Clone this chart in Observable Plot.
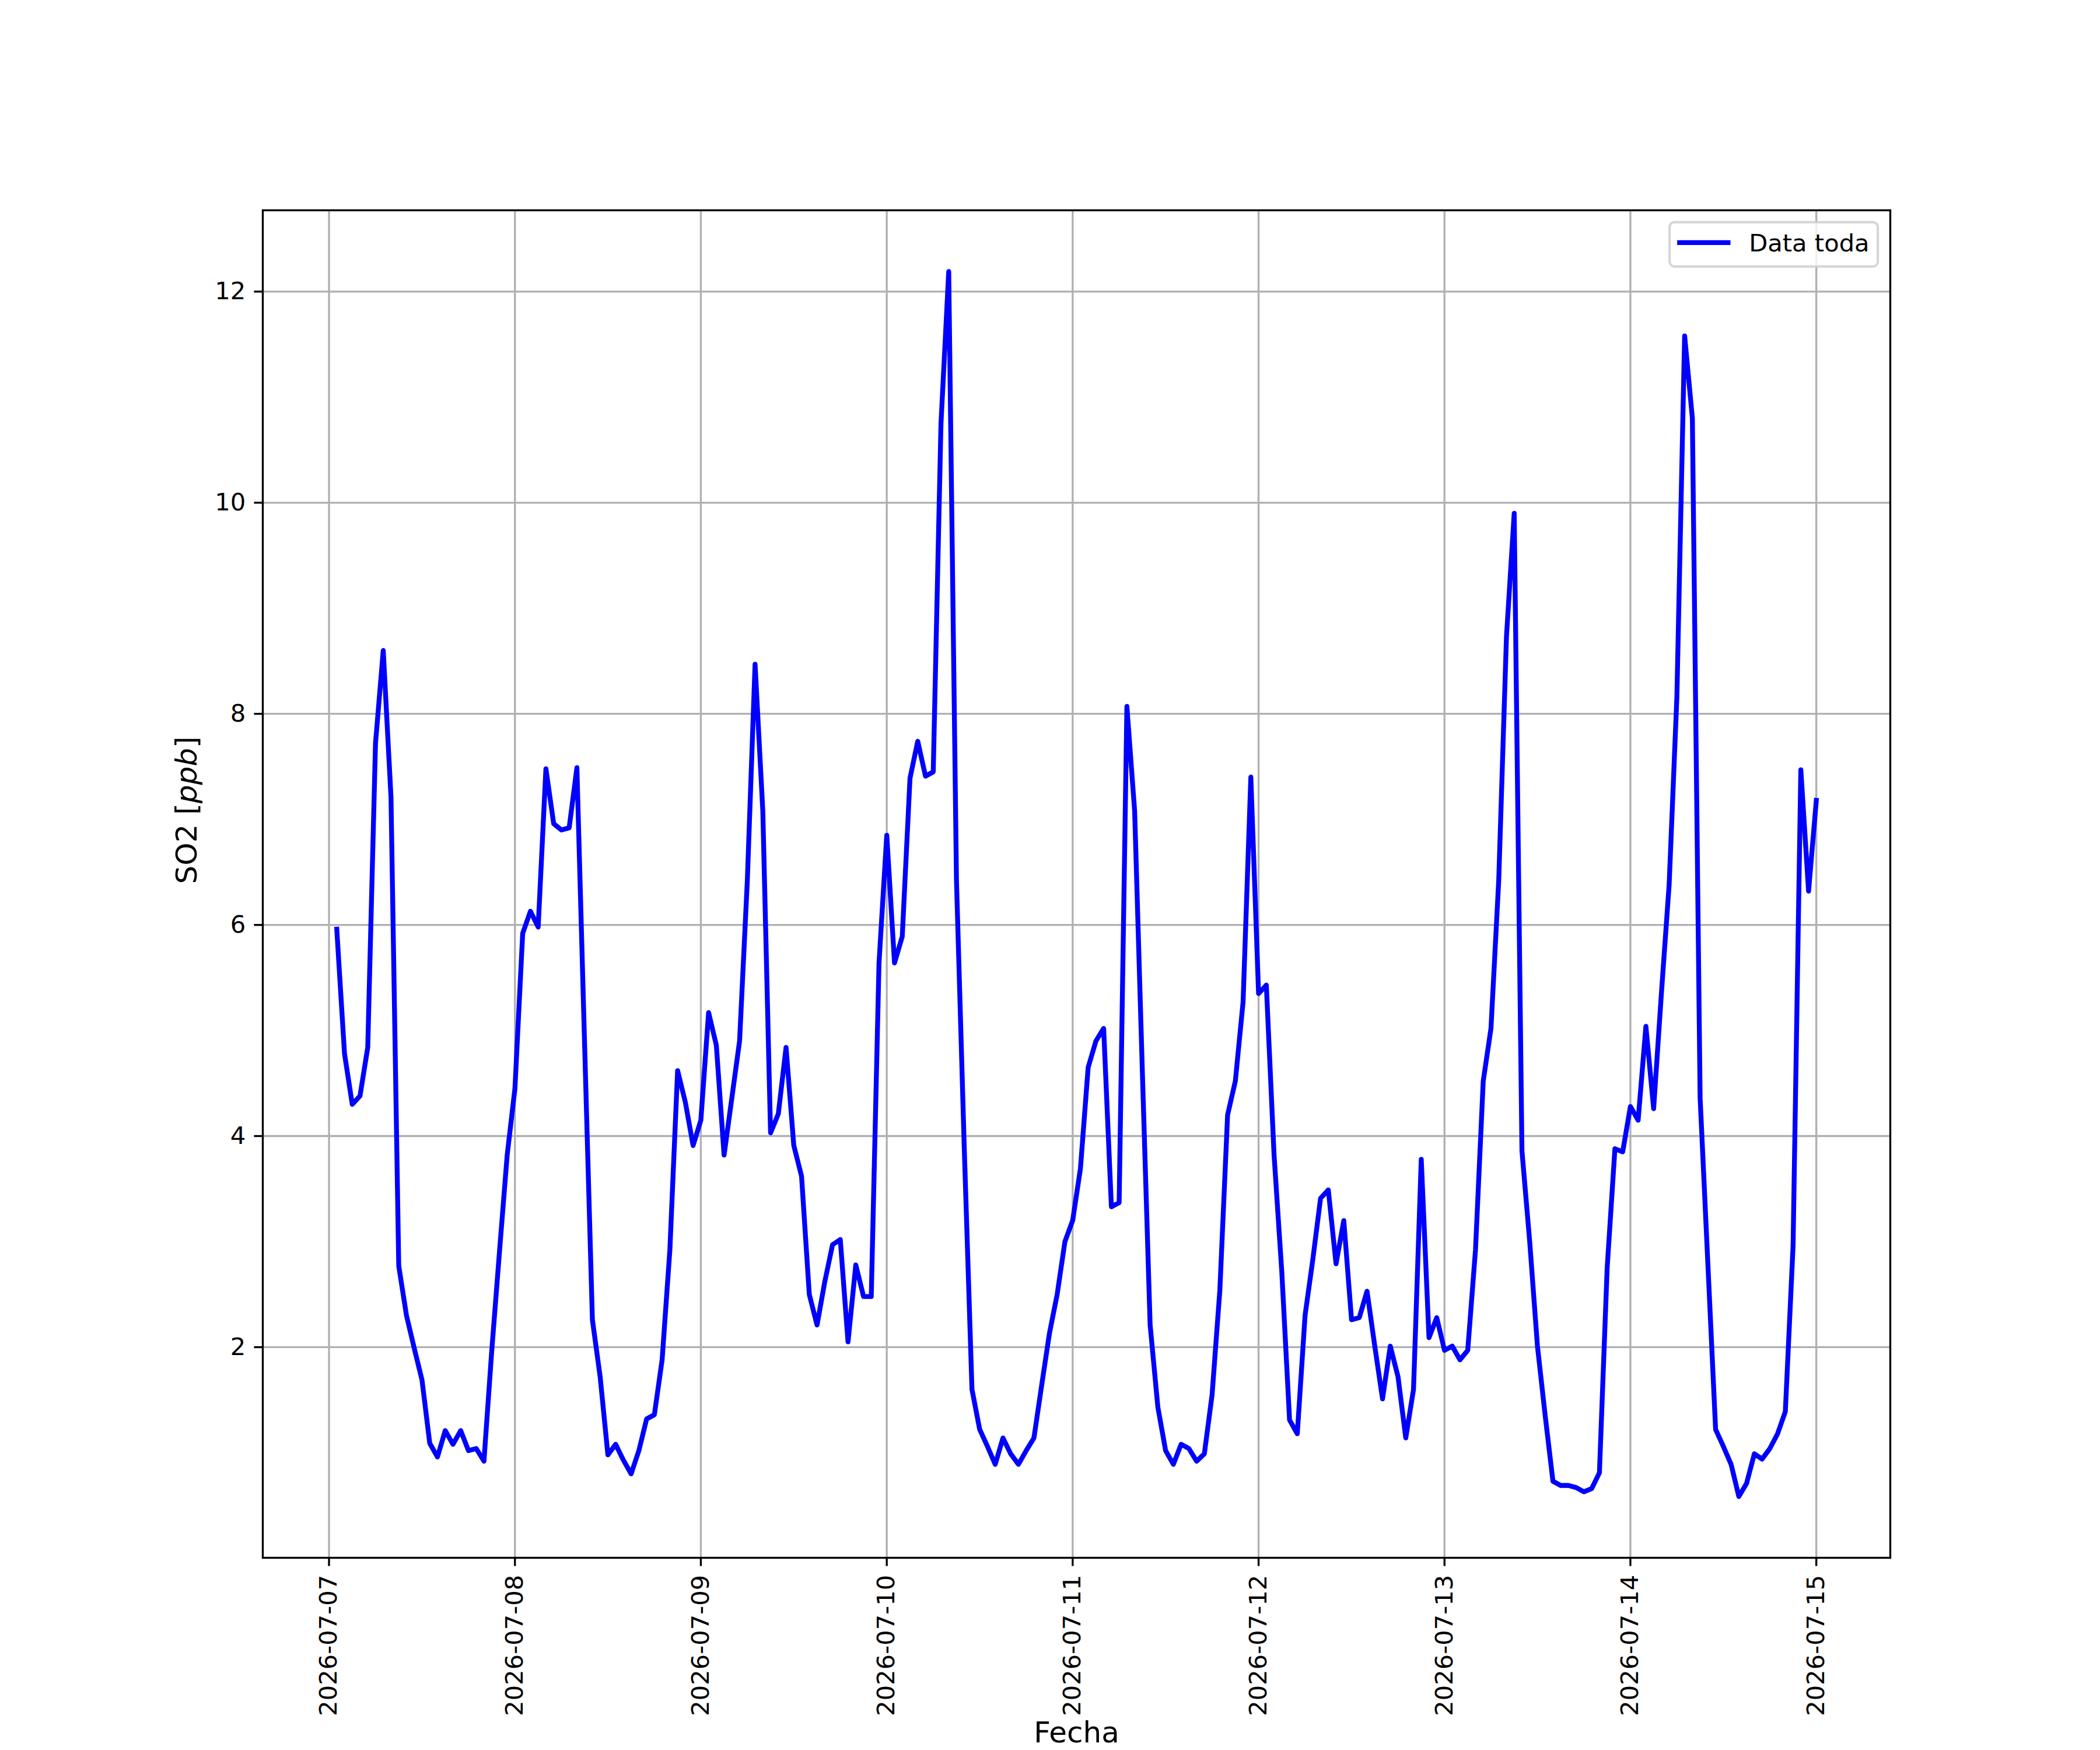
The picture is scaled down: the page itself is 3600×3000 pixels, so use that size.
<!DOCTYPE html>
<html>
<head>
<meta charset="utf-8">
<script src="https://cdn.jsdelivr.net/npm/d3@7"></script>
<script src="https://cdn.jsdelivr.net/npm/@observablehq/plot@0.6"></script>
<style>
  html, body { margin: 0; padding: 0; background: #ffffff; }
  #chart { width: 3600px; height: 3000px; }
  svg { display: block; }
</style>
</head>
<body>
<div id="chart"></div>
<script>
// ---------------- data ----------------
const startTime = "2026-07-07T01:00:00Z";   // first hourly reading
const stepHours = 1;
const so2 = [
  5.96, 4.78, 4.30, 4.38, 4.84, 7.72, 8.60, 7.21, 2.77, 2.30,
  1.99, 1.69, 1.09, 0.96, 1.21, 1.08, 1.21, 1.02, 1.04, 0.92,
  1.96, 2.90, 3.82, 4.45, 5.92, 6.13, 5.98, 7.48, 6.96, 6.90,
  6.92, 7.49, 4.85, 2.26, 1.72, 0.98, 1.08, 0.93, 0.80, 1.02,
  1.32, 1.36, 1.88, 2.92, 4.62, 4.32, 3.91, 4.15, 5.17, 4.86,
  3.82, 4.36, 4.90, 6.42, 8.47, 7.08, 4.03, 4.21, 4.84, 3.91,
  3.62, 2.50, 2.21, 2.62, 2.97, 3.02, 2.05, 2.78, 2.48, 2.48,
  5.64, 6.85, 5.64, 5.89, 7.39, 7.74, 7.41, 7.45, 10.75, 12.19,
  6.42, 3.90, 1.60, 1.22, 1.06, 0.89, 1.14, 0.99, 0.89, 1.02,
  1.14, 1.64, 2.13, 2.50, 3.00, 3.20, 3.69, 4.65, 4.90, 5.02,
  3.33, 3.37, 8.07, 7.08, 4.60, 2.21, 1.43, 1.02, 0.89, 1.08,
  1.04, 0.92, 0.99, 1.55, 2.54, 4.20, 4.52, 5.27, 7.40, 5.35,
  5.43, 3.82, 2.71, 1.31, 1.18, 2.30, 2.83, 3.41, 3.49, 2.79,
  3.20, 2.26, 2.28, 2.53, 2.01, 1.51, 2.01, 1.72, 1.14, 1.60,
  3.78, 2.09, 2.28, 1.97, 2.01, 1.88, 1.97, 2.92, 4.52, 5.02,
  6.42, 8.73, 9.90, 3.86, 3.00, 2.01, 1.35, 0.73, 0.69, 0.69,
  0.67, 0.63, 0.66, 0.81, 2.75, 3.88, 3.85, 4.28, 4.15, 5.04,
  4.26, 5.35, 6.38, 8.16, 11.58, 10.80, 4.36, 2.79, 1.22, 1.06,
  0.89, 0.585, 0.71, 0.99, 0.94, 1.04, 1.18, 1.39, 2.96, 7.47,
  6.32, 7.18
];
const dayTicks = ["2026-07-07", "2026-07-08", "2026-07-09", "2026-07-10", "2026-07-11",
                  "2026-07-12", "2026-07-13", "2026-07-14", "2026-07-15"];
const yTicks = [2, 4, 6, 8, 10, 12];
const seriesName = "Data toda";
const xLabel = "Fecha";
const yLabelParts = ["SO2 [", "ppb", "]"];   // middle part in italics

// ---------------- build ----------------
const t0 = new Date(startTime).getTime();
const rows = so2.map((v, i) => ({ date: new Date(t0 + i * stepHours * 3600e3), value: v }));
const dayTickDates = dayTicks.map(s => new Date(s + "T00:00:00Z"));

function padded(ext) {
  const m = (ext[1] - ext[0]) * 0.05;
  return [ext[0] - m, ext[1] + m];
}
const xExt = d3.extent(rows, d => d.date.getTime());
const xDomain = padded(xExt).map(t => new Date(t));
const yDomain = padded(d3.extent(rows, d => d.value));

const W = 3600, H = 3000;
const mL = 450, mR = 360, mT = 360, mB = 330;
const pt = 300 / 72;
const fs = 10 * pt;          // tick / legend font
const fsLabel = 12 * pt;     // axis label font
const gridStyle = { stroke: "#b0b0b0", strokeOpacity: 1, strokeWidth: 0.8 * pt };
const yLabelText = yLabelParts.join("");

const chart = Plot.plot({
  width: W, height: H,
  marginLeft: mL, marginRight: mR, marginTop: mT, marginBottom: mB,
  style: { fontFamily: "'DejaVu Sans', sans-serif", fontSize: `${fs}px`, background: "#ffffff", color: "#000000" },
  x: { type: "utc", domain: xDomain },
  y: { domain: yDomain },
  marks: [
    Plot.gridX(dayTickDates, gridStyle),
    Plot.gridY(yTicks, gridStyle),
    Plot.lineY(rows, { x: "date", y: "value", stroke: "#0000ff", strokeWidth: 2 * pt, strokeLinejoin: "round", strokeLinecap: "square", clip: true }),
    Plot.frame({ stroke: "#000000", strokeWidth: 0.8 * pt }),
    Plot.axisX(dayTickDates, {
      tickFormat: d3.utcFormat("%Y-%m-%d"), tickRotate: -90,
      tickSize: 3.5 * pt, tickPadding: 3.5 * pt, strokeWidth: 0.8 * pt, label: null
    }),
    Plot.axisY(yTicks, {
      tickFormat: d => String(d),
      tickSize: 3.5 * pt, tickPadding: 3.5 * pt, strokeWidth: 0.8 * pt, label: null
    }),
    Plot.text([xLabel], { frameAnchor: "bottom", lineAnchor: "bottom", dy: 316, fontSize: fsLabel, fill: "#000" }),
    Plot.text([yLabelText], { frameAnchor: "left", rotate: -90, lineAnchor: "middle", dx: -130, fontSize: fsLabel, fill: "#000" })
  ]
});

document.getElementById("chart").appendChild(chart);

// italic "ppb" in the y label
const svg = d3.select(chart);
svg.selectAll("text").filter(function () { return this.textContent === yLabelText; })
  .each(function () {
    const t = d3.select(this);
    t.text(null);
    yLabelParts.forEach((p, i) => t.append("tspan").attr("font-style", i === 1 ? "italic" : null).text(p));
  });

// legend (upper right, matplotlib style)
const pad = 0.5 * fs;
const boxW = 357, boxH = 76;
const bx = W - mR - pad - boxW, by = mT + pad;
const lg = svg.append("g").attr("font-family", "'DejaVu Sans', sans-serif").attr("font-size", fs)
  .attr("text-anchor", "start");
lg.append("rect").attr("x", bx).attr("y", by).attr("width", boxW).attr("height", boxH)
  .attr("rx", 0.2 * fs).attr("fill", "#ffffff").attr("fill-opacity", 0.8)
  .attr("stroke", "#cccccc").attr("stroke-opacity", 0.8).attr("stroke-width", 1 * pt);
lg.append("line").attr("x1", bx + 13).attr("x2", bx + 13 + 2 * fs + 8).attr("y1", by + 35).attr("y2", by + 35)
  .attr("stroke", "#0000ff").attr("stroke-width", 2 * pt);
lg.append("text").attr("x", bx + 136).attr("y", by + 50).attr("fill", "#000")
  .attr("text-anchor", "start").text(seriesName);
</script>
</body>
</html>
